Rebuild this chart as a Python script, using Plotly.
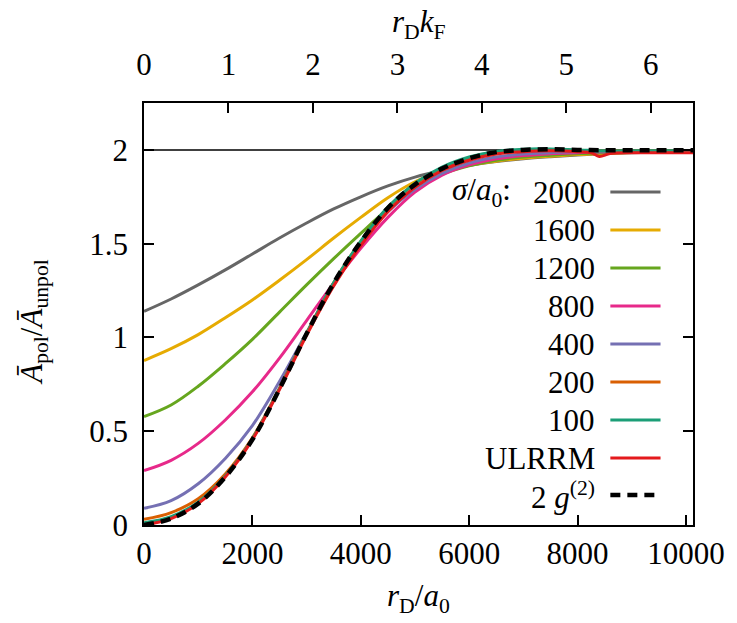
import plotly.graph_objects as go

# ---------------- data ----------------
x_a0 = [0, 500, 1000, 1500, 2000, 2500, 3000, 3500, 4000, 4500, 5000,
        5500, 6000, 6500, 7000, 7500, 8000, 8500, 9000, 9500, 10130]

s2000 = [1.139, 1.205, 1.280, 1.360, 1.445, 1.530, 1.610, 1.685, 1.750, 1.808, 1.855,
         1.890, 1.918, 1.938, 1.953, 1.964, 1.973, 1.980, 1.985, 1.988, 1.99]
s1600 = [0.877, 0.940, 1.015, 1.105, 1.200, 1.305, 1.415, 1.530, 1.640, 1.745, 1.830,
         1.885, 1.918, 1.940, 1.955, 1.966, 1.975, 1.981, 1.986, 1.989, 1.99]
s1200 = [0.578, 0.640, 0.740, 0.860, 0.990, 1.135, 1.280, 1.420, 1.555, 1.685, 1.795,
         1.870, 1.915, 1.945, 1.962, 1.972, 1.980, 1.985, 1.988, 1.99, 1.99]
s800 = [0.290, 0.345, 0.435, 0.560, 0.710, 0.890, 1.090, 1.290, 1.475, 1.640, 1.775,
        1.865, 1.920, 1.952, 1.970, 1.980, 1.985, 1.99, 1.99, 1.99, 1.99]
s400 = [0.089, 0.130, 0.220, 0.355, 0.530, 0.765, 1.025, 1.280, 1.500, 1.670, 1.790,
        1.875, 1.930, 1.962, 1.978, 1.985, 1.99, 1.99, 1.99, 1.99, 1.99]
s200 = [0.030, 0.066, 0.140, 0.272, 0.465, 0.730, 1.022, 1.292, 1.512, 1.692, 1.818,
        1.903, 1.958, 1.988, 1.999, 2.0, 1.998, 1.995, 1.995, 1.995, 1.995]
s100 = [0.012, 0.045, 0.122, 0.262, 0.460, 0.727, 1.021, 1.292, 1.513, 1.695, 1.822,
        1.908, 1.962, 1.992, 2.004, 2.005, 2.0, 1.995, 1.995, 1.995, 1.995]

x_ulrrm = [0, 500, 1000, 1500, 2000, 2500, 3000, 3500, 4000, 4500, 5000,
           5500, 6000, 6500, 7000, 7500, 8000, 8250, 8400, 8600, 9000, 9500, 10130]
ulrrm = [0.0, 0.034, 0.114, 0.256, 0.455, 0.722, 1.012, 1.275, 1.490, 1.670, 1.800,
         1.890, 1.945, 1.978, 1.99, 1.995, 1.99, 1.985, 1.965, 1.98, 1.985, 1.985, 1.985]

g2 = [0.0, 0.034, 0.114, 0.256, 0.455, 0.725, 1.020, 1.290, 1.510, 1.690, 1.815,
      1.900, 1.955, 1.988, 2.0, 2.003, 2.0, 1.998, 1.998, 1.998, 1.998]

x_ticks = [0, 2000, 4000, 6000, 8000, 10000]
x_ticktext = ["0", "2000", "4000", "6000", "8000", "10000"]
kf_ticks = [0, 1, 2, 3, 4, 5, 6]
y_ticks = [0, 0.5, 1, 1.5, 2]
y_ticktext = ["0", "0.5", "1", "1.5", "2"]

labels = ["2000", "1600", "1200", "800", "400", "200", "100", "ULRRM", "2 <i>g</i><sup>(2)</sup>"]
colors = ["#666666", "#e6ab02", "#66a61e", "#e7298a", "#7570b3", "#d95f02", "#1b9e77", "#e41a1c", "black"]

X_MAX = 10130
KF_MAX = 6.5
Y_MAX = 2.25

# ---------------- figure ----------------
FONT = "Liberation Serif, DejaVu Serif, serif"
FS = 31

fig = go.Figure()
series = [(x_a0, s2000), (x_a0, s1600), (x_a0, s1200), (x_a0, s800), (x_a0, s400),
          (x_a0, s200), (x_a0, s100), (x_ulrrm, ulrrm)]
for (xs, ys), c in zip(series, colors[:8]):
    fig.add_trace(go.Scatter(x=xs, y=ys, mode="lines",
                             line=dict(color=c, width=3, shape="spline", smoothing=1.0),
                             showlegend=False, hoverinfo="skip"))
fig.add_trace(go.Scatter(x=x_a0, y=g2, mode="lines",
                         line=dict(color="black", width=4.5, dash="10px,7px", shape="spline", smoothing=1.0),
                         showlegend=False, hoverinfo="skip"))
# carrier trace for the top (r_D k_F) axis
fig.add_trace(go.Scatter(x=[0, KF_MAX], y=[None, None], xaxis="x2", yaxis="y",
                         mode="lines", showlegend=False, hoverinfo="skip"))

# horizontal reference line at 2
fig.add_shape(type="line", xref="paper", x0=0, x1=1, yref="y", y0=2, y1=2,
              line=dict(color="black", width=1.5), layer="below")

# custom legend (text right-aligned, sample line on the right)
leg_y_px = [192, 230, 268, 306, 344, 382, 420, 458, 495]
plot_top, plot_bot, plot_l, plot_r = 103, 525, 144, 702
def py(p):
    return (plot_bot - p) / (plot_bot - plot_top)
def px(p):
    return (p - plot_l) / (plot_r - plot_l)

for lab, c, yp in zip(labels, colors, leg_y_px):
    fig.add_annotation(x=px(604), y=py(yp), xref="paper", yref="paper", text=lab,
                       showarrow=False, xanchor="right", yanchor="middle",
                       font=dict(family=FONT, size=FS, color="black"))
    if c == "black":
        ln = dict(color="black", width=4.5, dash="10px,7px")
    else:
        ln = dict(color=c, width=3)
    fig.add_shape(type="line", xref="paper", yref="paper", x0=px(618), x1=px(669),
                  y0=py(yp), y1=py(yp), line=ln)
fig.add_annotation(x=px(519), y=py(leg_y_px[0]), xref="paper", yref="paper",
                   text="<i>σ</i>/<i>a</i><sub>0</sub>:", showarrow=False,
                   xanchor="right", yanchor="middle", font=dict(family=FONT, size=FS, color="black"))

# axis titles
fig.add_annotation(x=0.5, y=py(598), xref="paper", yref="paper",
                   text="<i>r</i><sub>D</sub>/<i>a</i><sub>0</sub>", showarrow=False,
                   xanchor="center", yanchor="middle", font=dict(family=FONT, size=FS, color="black"))
fig.add_annotation(x=0.5, y=py(24), xref="paper", yref="paper",
                   text="<i>r</i><sub>D</sub><i>k</i><sub>F</sub>", showarrow=False,
                   xanchor="center", yanchor="middle", font=dict(family=FONT, size=FS, color="black"))
fig.add_annotation(x=px(32), y=py(322), xref="paper", yref="paper", textangle=-90,
                   text="<i>Ā</i><sub>pol</sub>/<i>Ā</i><sub>unpol</sub>", showarrow=False,
                   xanchor="center", yanchor="middle", font=dict(family=FONT, size=FS, color="black"))

axis_common = dict(showline=True, linecolor="black", linewidth=1.5, ticks="inside", ticklen=10,
                   tickwidth=1.5, tickcolor="black", showgrid=False, zeroline=False,
                   tickfont=dict(family=FONT, size=FS, color="black"))

fig.update_layout(
    width=737, height=623,
    margin=dict(l=plot_l, r=737 - plot_r, t=plot_top, b=623 - plot_bot),
    plot_bgcolor="white", paper_bgcolor="white",
    font=dict(family=FONT, size=FS, color="black"),
    xaxis=dict(range=[0, X_MAX], tickvals=x_ticks, ticktext=x_ticktext, ticklabelstandoff=0,
               **axis_common),
    xaxis2=dict(range=[0, KF_MAX], tickvals=kf_ticks, overlaying="x", side="top",
                ticklabelstandoff=14, **axis_common),
    yaxis=dict(range=[0, Y_MAX], tickvals=y_ticks, ticktext=y_ticktext, mirror="ticks",
               ticklabelstandoff=8, **axis_common),
)

fig.write_html("out.html")
